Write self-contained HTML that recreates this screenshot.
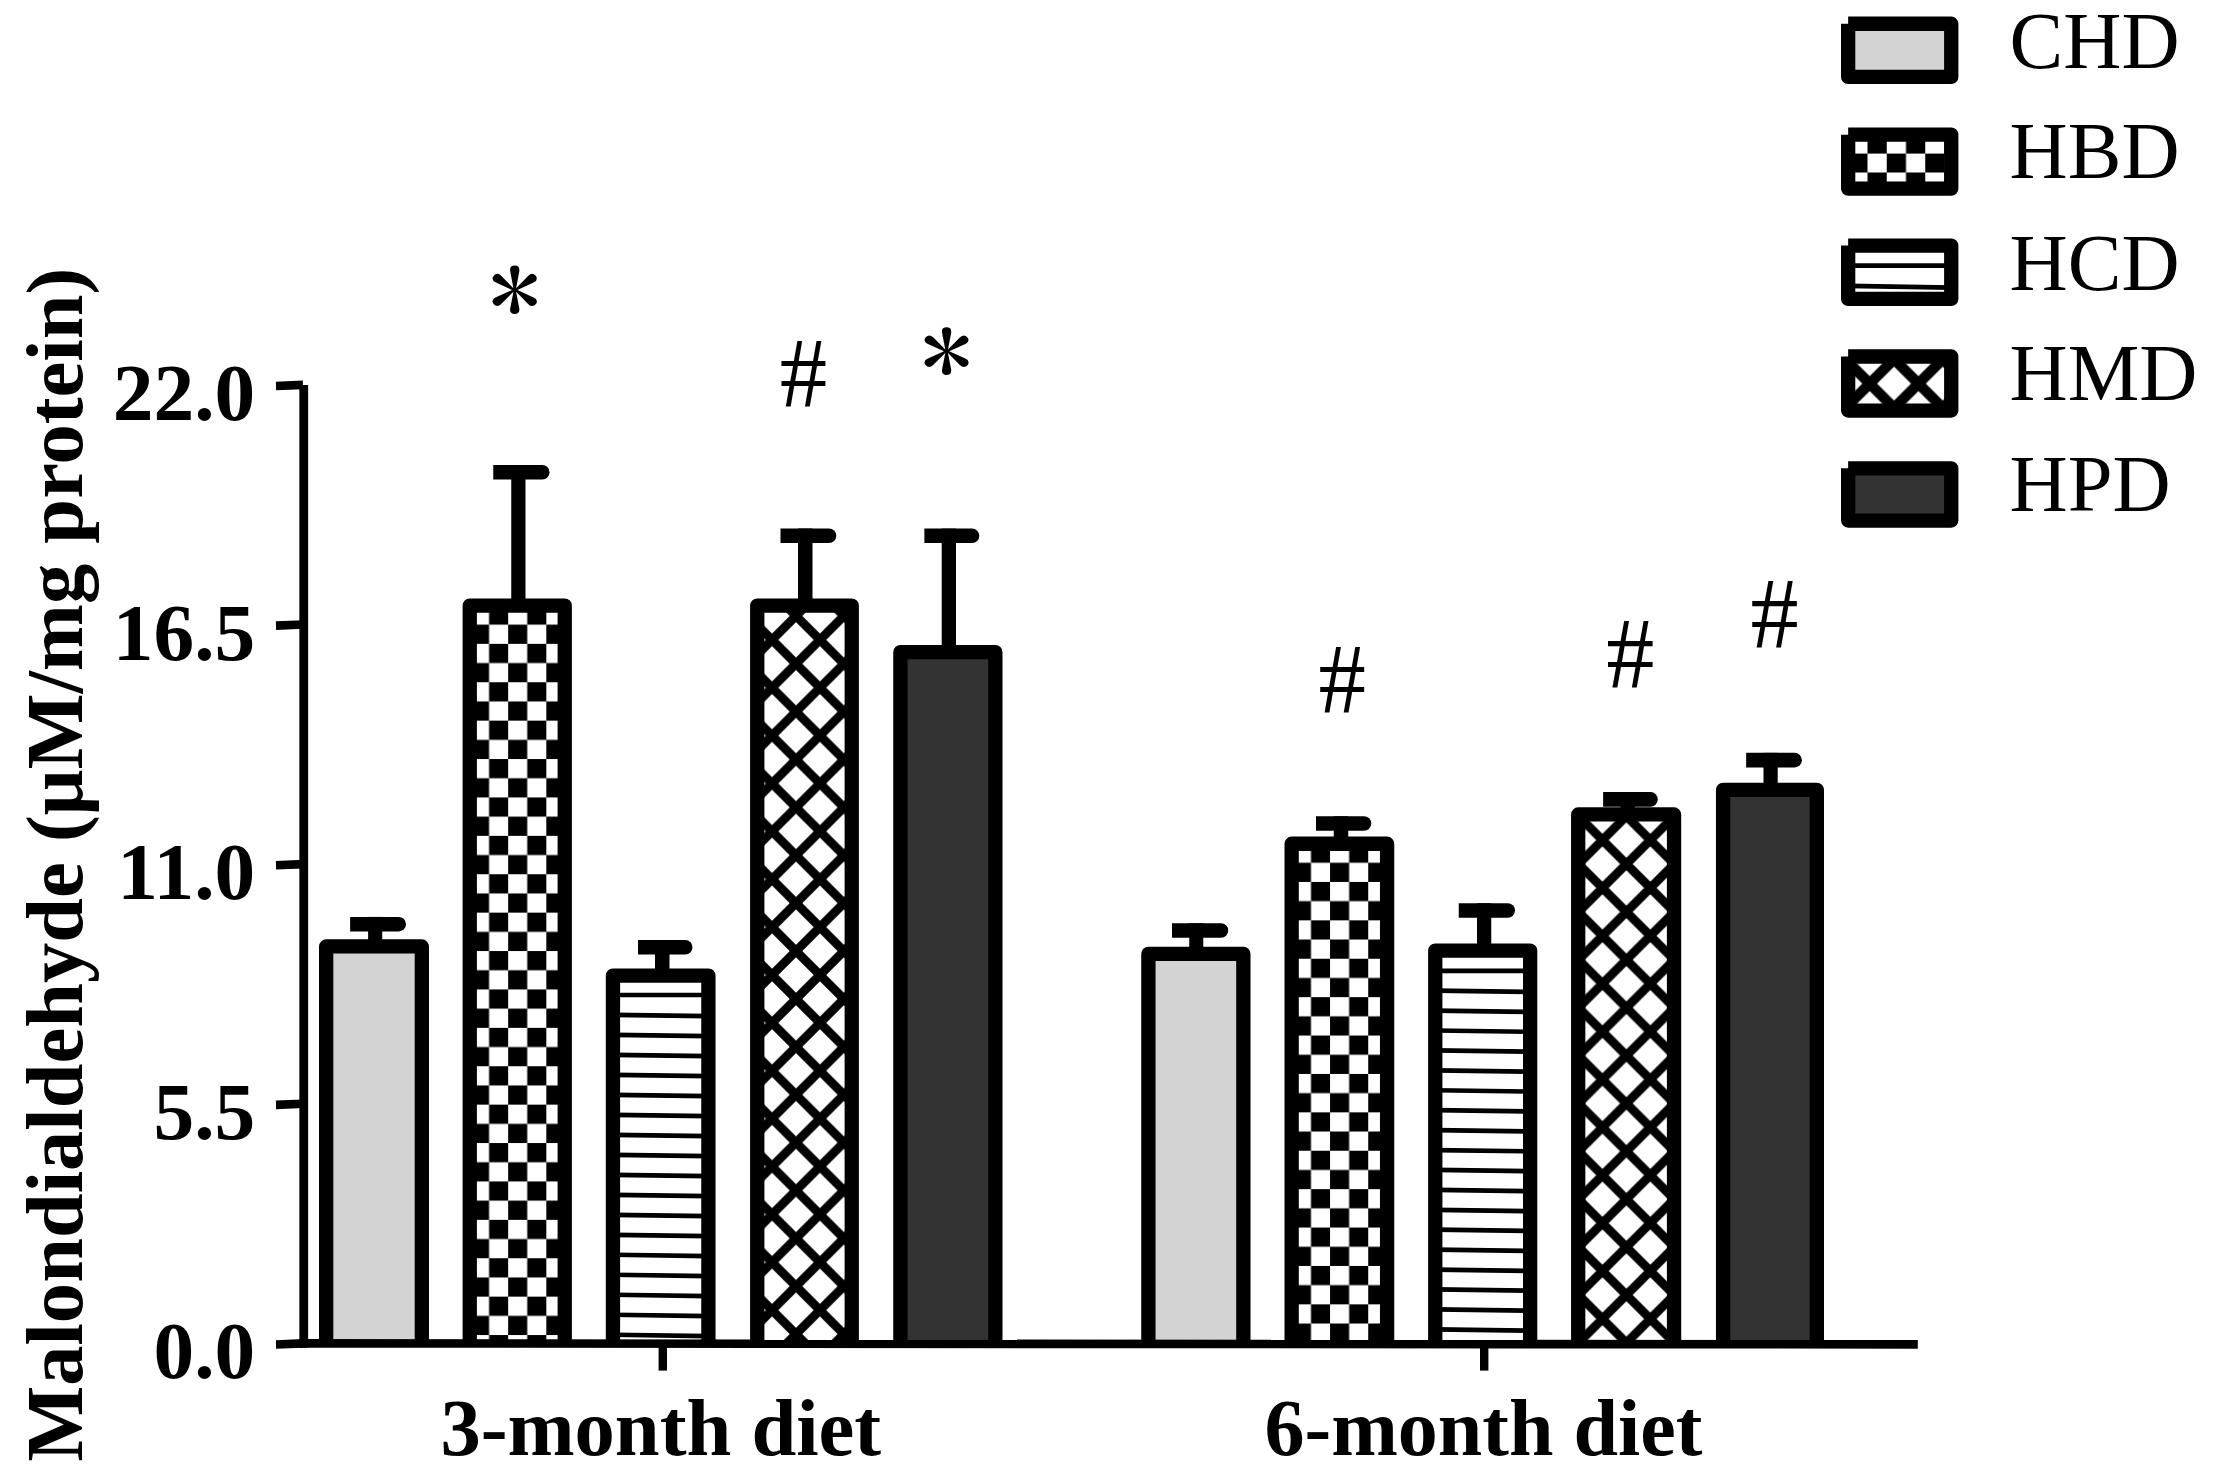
<!DOCTYPE html>
<html lang="en"><head><meta charset="utf-8"><title>Malondialdehyde bar chart</title>
<style>html,body{margin:0;padding:0;background:#fff;}svg{display:block;}text{font-family:"Liberation Serif","Times New Roman",serif;fill:#000;}.b{font-weight:bold;font-size:80px;}.r{font-size:80.5px;}.h{font-size:100px;}.a{font-family:"IPAGothic","Liberation Serif",serif;font-size:100px;}</style></head><body>
<svg width="2216" height="1480" viewBox="0 0 2216 1480">
<rect x="0" y="0" width="2216" height="1480" fill="#fff"/>
<defs>
<pattern id="p1" patternUnits="userSpaceOnUse" x="470.00" y="605.45" width="38.16" height="38.40"><rect x="0" y="0" width="38.16" height="38.40" fill="#fff"/><rect x="19.08" y="0" width="19.08" height="19.20" fill="#000"/><rect x="0" y="19.20" width="19.08" height="19.20" fill="#000"/></pattern>
<pattern id="p2" patternUnits="userSpaceOnUse" x="796.00" y="615.90" width="47.88" height="47.88"><rect x="0" y="0" width="47.88" height="47.88" fill="#fff"/><path d="M-47.88,-47.88 L95.76,95.76 M-47.88,95.76 L95.76,-47.88 M-47.88,0 L47.88,95.76 M0,-47.88 L95.76,47.88 M-47.88,47.88 L47.88,-47.88 M0,95.76 L95.76,0" stroke="#000" stroke-width="8.90" fill="none"/></pattern>
<pattern id="p3" patternUnits="userSpaceOnUse" x="1291.90" y="843.55" width="38.16" height="38.40"><rect x="0" y="0" width="38.16" height="38.40" fill="#fff"/><rect x="19.08" y="0" width="19.08" height="19.20" fill="#000"/><rect x="0" y="19.20" width="19.08" height="19.20" fill="#000"/></pattern>
<pattern id="p4" patternUnits="userSpaceOnUse" x="1626.40" y="816.15" width="47.88" height="47.88"><rect x="0" y="0" width="47.88" height="47.88" fill="#fff"/><path d="M-47.88,-47.88 L95.76,95.76 M-47.88,95.76 L95.76,-47.88 M-47.88,0 L47.88,95.76 M0,-47.88 L95.76,47.88 M-47.88,47.88 L47.88,-47.88 M0,95.76 L95.76,0" stroke="#000" stroke-width="8.90" fill="none"/></pattern>
<pattern id="p5" patternUnits="userSpaceOnUse" x="1848.25" y="134.70" width="38.50" height="37.80"><rect x="0" y="0" width="38.50" height="37.80" fill="#fff"/><rect x="19.25" y="0" width="19.25" height="18.90" fill="#000"/><rect x="0" y="18.90" width="19.25" height="18.90" fill="#000"/></pattern>
<pattern id="p6" patternUnits="userSpaceOnUse" x="1869.70" y="383.60" width="48.75" height="48.75"><rect x="0" y="0" width="48.75" height="48.75" fill="#fff"/><path d="M-48.75,-48.75 L97.50,97.50 M-48.75,97.50 L97.50,-48.75 M-48.75,0 L48.75,97.50 M0,-48.75 L97.50,48.75 M-48.75,48.75 L48.75,-48.75 M0,97.50 L97.50,0" stroke="#000" stroke-width="10.40" fill="none"/></pattern>
</defs>
<rect x="326.15" y="946.45" width="95.70" height="396.65" fill="#d3d3d3"/>
<rect x="368.10" y="916.90" width="14.10" height="29.55" fill="#000"/>
<path d="M350.10,916.90 H398.75 A7.25,7.25 0 0 1 398.75,931.40 H350.10 Z" fill="#000"/>
<path d="M326.15,1343.10 V946.45 H421.85 V1343.10" fill="none" stroke="#000" stroke-width="14.3" stroke-linejoin="round"/>
<rect x="469.75" y="605.65" width="95.00" height="737.45" fill="url(#p1)"/>
<rect x="511.25" y="465.00" width="14.25" height="140.65" fill="#000"/>
<path d="M493.25,465.00 H542.25 A7.25,7.25 0 0 1 542.25,479.50 H493.25 Z" fill="#000"/>
<path d="M469.75,1343.10 V605.65 H564.75 V1343.10" fill="none" stroke="#000" stroke-width="14.3" stroke-linejoin="round"/>
<rect x="612.95" y="975.55" width="95.45" height="367.55" fill="#fff"/>
<clipPath id="c2"><rect x="612.95" y="975.55" width="95.45" height="367.55"/></clipPath>
<g clip-path="url(#c2)"><path d="M612.95,995.00 L708.40,995.00 M612.95,1014.89 L708.40,1016.19 M612.95,1034.88 L708.40,1036.18 M612.95,1054.87 L708.40,1056.17 M612.95,1074.86 L708.40,1076.16 M612.95,1094.85 L708.40,1096.15 M612.95,1114.84 L708.40,1116.14 M612.95,1134.83 L708.40,1136.13 M612.95,1154.82 L708.40,1156.12 M612.95,1174.81 L708.40,1176.11 M612.95,1194.80 L708.40,1196.10 M612.95,1214.79 L708.40,1216.09 M612.95,1234.78 L708.40,1236.08 M612.95,1254.77 L708.40,1256.07 M612.95,1274.76 L708.40,1276.06 M612.95,1294.75 L708.40,1296.05 M612.95,1314.74 L708.40,1316.04 M612.95,1334.73 L708.40,1336.03" stroke="#000" stroke-width="4.70" fill="none"/></g>
<rect x="655.00" y="940.00" width="14.50" height="35.55" fill="#000"/>
<path d="M638.00,940.00 H685.25 A7.25,7.25 0 0 1 685.25,954.50 H638.00 Z" fill="#000"/>
<path d="M612.95,1343.10 V975.55 H708.40 V1343.10" fill="none" stroke="#000" stroke-width="14.3" stroke-linejoin="round"/>
<rect x="757.25" y="605.65" width="94.50" height="737.45" fill="url(#p2)"/>
<rect x="798.00" y="528.50" width="14.50" height="77.15" fill="#000"/>
<path d="M780.50,528.50 H829.00 A7.25,7.25 0 0 1 829.00,543.00 H780.50 Z" fill="#000"/>
<path d="M757.25,1343.10 V605.65 H851.75 V1343.10" fill="none" stroke="#000" stroke-width="14.3" stroke-linejoin="round"/>
<rect x="900.40" y="652.15" width="94.95" height="690.95" fill="#333333"/>
<rect x="941.70" y="528.60" width="14.30" height="123.55" fill="#000"/>
<path d="M924.40,528.60 H972.05 A7.25,7.25 0 0 1 972.05,543.10 H924.40 Z" fill="#000"/>
<path d="M900.40,1343.10 V652.15 H995.35 V1343.10" fill="none" stroke="#000" stroke-width="14.3" stroke-linejoin="round"/>
<rect x="1148.40" y="953.90" width="94.95" height="389.20" fill="#d3d3d3"/>
<rect x="1189.25" y="923.25" width="14.00" height="30.65" fill="#000"/>
<path d="M1172.00,923.25 H1221.00 A7.25,7.25 0 0 1 1221.00,937.75 H1172.00 Z" fill="#000"/>
<path d="M1148.40,1343.10 V953.90 H1243.35 V1343.10" fill="none" stroke="#000" stroke-width="14.3" stroke-linejoin="round"/>
<rect x="1291.65" y="843.75" width="95.45" height="499.35" fill="url(#p3)"/>
<rect x="1333.75" y="816.25" width="14.50" height="27.50" fill="#000"/>
<path d="M1316.00,816.25 H1364.00 A7.25,7.25 0 0 1 1364.00,830.75 H1316.00 Z" fill="#000"/>
<path d="M1291.65,1343.10 V843.75 H1387.10 V1343.10" fill="none" stroke="#000" stroke-width="14.3" stroke-linejoin="round"/>
<rect x="1435.25" y="950.65" width="94.90" height="392.45" fill="#fff"/>
<clipPath id="c7"><rect x="1435.25" y="950.65" width="94.90" height="392.45"/></clipPath>
<g clip-path="url(#c7)"><path d="M1435.25,970.85 L1530.15,970.85 M1435.25,990.67 L1530.15,991.97 M1435.25,1010.59 L1530.15,1011.89 M1435.25,1030.51 L1530.15,1031.81 M1435.25,1050.43 L1530.15,1051.73 M1435.25,1070.35 L1530.15,1071.65 M1435.25,1090.27 L1530.15,1091.57 M1435.25,1110.19 L1530.15,1111.49 M1435.25,1130.11 L1530.15,1131.41 M1435.25,1150.03 L1530.15,1151.33 M1435.25,1169.95 L1530.15,1171.25 M1435.25,1189.87 L1530.15,1191.17 M1435.25,1209.79 L1530.15,1211.09 M1435.25,1229.71 L1530.15,1231.01 M1435.25,1249.63 L1530.15,1250.93 M1435.25,1269.55 L1530.15,1270.85 M1435.25,1289.47 L1530.15,1290.77 M1435.25,1309.39 L1530.15,1310.69 M1435.25,1329.31 L1530.15,1330.61" stroke="#000" stroke-width="4.70" fill="none"/></g>
<rect x="1477.00" y="903.25" width="14.25" height="47.40" fill="#000"/>
<path d="M1458.75,903.25 H1507.75 A7.25,7.25 0 0 1 1507.75,917.75 H1458.75 Z" fill="#000"/>
<path d="M1435.25,1343.10 V950.65 H1530.15 V1343.10" fill="none" stroke="#000" stroke-width="14.3" stroke-linejoin="round"/>
<rect x="1578.20" y="814.45" width="95.85" height="528.65" fill="url(#p4)"/>
<rect x="1620.50" y="792.00" width="14.30" height="22.45" fill="#000"/>
<path d="M1603.15,792.00 H1650.58 A7.43,7.43 0 0 1 1650.58,806.85 H1603.15 Z" fill="#000"/>
<path d="M1578.20,1343.10 V814.45 H1674.05 V1343.10" fill="none" stroke="#000" stroke-width="14.3" stroke-linejoin="round"/>
<rect x="1723.10" y="789.85" width="93.75" height="553.25" fill="#333333"/>
<rect x="1763.50" y="752.85" width="14.20" height="37.00" fill="#000"/>
<path d="M1746.15,752.85 H1794.62 A7.27,7.27 0 0 1 1794.62,767.40 H1746.15 Z" fill="#000"/>
<path d="M1723.10,1343.10 V789.85 H1816.85 V1343.10" fill="none" stroke="#000" stroke-width="14.3" stroke-linejoin="round"/>
<rect x="299.36" y="385" width="8.78" height="962.70" fill="#000"/>
<polygon points="299.4,1339.1 1917.8,1340.1 1917.8,1348.7 299.4,1347.7" fill="#000"/>
<polygon points="275.9,381.70 302.9,380.55 302.9,389.15 276.1,390.30" fill="#000"/>
<polygon points="275.9,621.30 302.9,620.15 302.9,628.75 276.1,629.90" fill="#000"/>
<polygon points="275.9,860.95 302.9,859.80 302.9,868.40 276.1,869.55" fill="#000"/>
<polygon points="275.9,1100.60 302.9,1099.45 302.9,1108.05 276.1,1109.20" fill="#000"/>
<polygon points="275.9,1340.25 302.9,1339.10 302.9,1347.70 276.1,1348.85" fill="#000"/>
<rect x="658.60" y="1343" width="8.4" height="27.6" fill="#000"/>
<rect x="1480.00" y="1343" width="8.4" height="27.6" fill="#000"/>
<text class="b" style="font-size:81.4px" x="255.2" y="419.9" text-anchor="end">22.0</text>
<text class="b" style="font-size:81.4px" x="255.2" y="659.5" text-anchor="end">16.5</text>
<text class="b" style="font-size:81.4px" x="255.2" y="899.15" text-anchor="end">11.0</text>
<text class="b" style="font-size:81.4px" x="255.2" y="1138.8" text-anchor="end">5.5</text>
<text class="b" style="font-size:81.4px" x="255.2" y="1378.4" text-anchor="end">0.0</text>
<text class="b" transform="translate(440.4,1454.6) scale(1.007,1)">3-month diet</text>
<text class="b" x="1264.5" y="1454.6">6-month diet</text>
<text class="b" transform="translate(81.8,1461.8) rotate(-90) scale(1.0068,1)">Malondialdehyde (μM/mg protein)</text>
<text class="a" transform="translate(488.60,327.03) scale(1.050,0.964)">*</text>
<text class="a" transform="translate(920.52,387.08) scale(1.045,0.960)">*</text>
<text class="h" transform="translate(779.80,406.00) scale(0.948,1.000)">#</text>
<text class="h" transform="translate(1318.60,711.90) scale(0.948,0.998)">#</text>
<text class="h" transform="translate(1606.33,687.50) scale(0.962,1.008)">#</text>
<text class="h" transform="translate(1750.58,647.50) scale(0.962,1.008)">#</text>
<rect x="1848.15" y="23.75" width="103.1" height="53.15" fill="#d3d3d3"/>
<path d="M1848.15,23.75 H1951.25 V76.90 H1848.15 V23.75" fill="none" stroke="#000" stroke-width="14.3" stroke-linejoin="round" stroke-linecap="butt"/>
<text class="r" x="2009.6" y="67.6">CHD</text>
<rect x="1848.15" y="134.65" width="103.1" height="53.95" fill="url(#p5)"/>
<path d="M1848.15,134.65 H1951.25 V188.60 H1848.15 V134.65" fill="none" stroke="#000" stroke-width="14.3" stroke-linejoin="round" stroke-linecap="butt"/>
<text class="r" x="2009.6" y="178.4">HBD</text>
<rect x="1848.15" y="245.60" width="103.1" height="53.3" fill="#fff"/>
<path d="M1848.15,265.7 H1951.25 M1848.15,285.78 L1951.25,287.57" stroke="#000" stroke-width="4.8" fill="none"/>
<path d="M1848.15,245.60 H1951.25 V298.90 H1848.15 V245.60" fill="none" stroke="#000" stroke-width="14.3" stroke-linejoin="round" stroke-linecap="butt"/>
<text class="r" x="2009.6" y="289.6">HCD</text>
<rect x="1848.15" y="356.50" width="103.1" height="54.05" fill="url(#p6)"/>
<path d="M1848.15,356.50 H1951.25 V410.55 H1848.15 V356.50" fill="none" stroke="#000" stroke-width="14.3" stroke-linejoin="round" stroke-linecap="butt"/>
<text class="r" x="2009.6" y="400.4">HMD</text>
<rect x="1848.15" y="468.35" width="103.1" height="52.2" fill="#333333"/>
<path d="M1848.15,468.35 H1951.25 V520.55 H1848.15 V468.35" fill="none" stroke="#000" stroke-width="14.3" stroke-linejoin="round" stroke-linecap="butt"/>
<text class="r" x="2009.6" y="511.2">HPD</text>
</svg></body></html>
